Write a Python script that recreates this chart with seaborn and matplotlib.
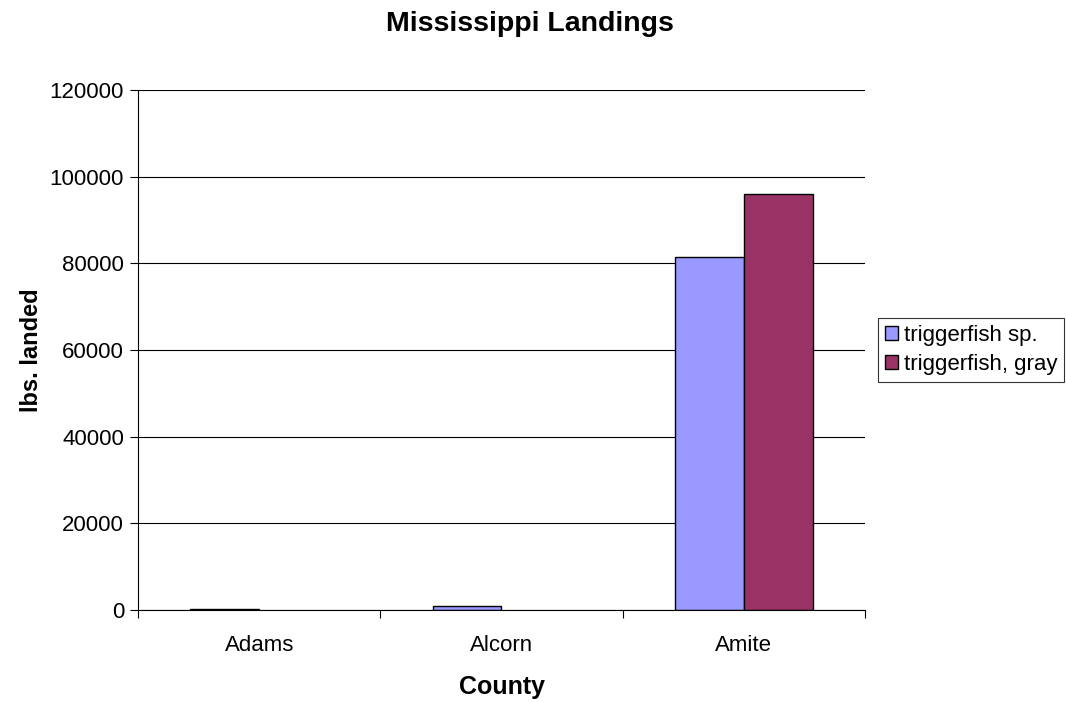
import matplotlib
matplotlib.use("Agg")
import matplotlib.pyplot as plt
import seaborn as sns
import pandas as pd
from matplotlib.ticker import FixedLocator

counties = ["Adams", "Alcorn", "Amite"]
species = ["triggerfish sp.", "triggerfish, gray"]
sp_values = [150, 1000, 81500]
gray_values = [0, 0, 96000]
palette = ["#9999FF", "#993366"]

df = pd.DataFrame({
    "County": counties * 2,
    "Species": [species[0]] * 3 + [species[1]] * 3,
    "lbs": sp_values + gray_values,
})
# counties with no landings for a species get no bar at all
df.loc[df["lbs"] == 0, "lbs"] = float("nan")

sns.set_style("white")
plt.rcParams["font.family"] = ["Liberation Sans", "DejaVu Sans"]
for key in ["text.color", "axes.labelcolor", "xtick.color", "ytick.color"]:
    plt.rcParams[key] = "black"

fig = plt.figure(figsize=(10.66, 7.02), dpi=100)
ax = fig.add_axes([138 / 1066, 1 - 610 / 702, (865 - 138) / 1066, (610 - 90) / 702])

sns.barplot(data=df, x="County", y="lbs", hue="Species", order=counties,
            hue_order=species, palette=palette, width=0.567, gap=0,
            edgecolor="black", linewidth=1, saturation=1, ax=ax)

ax.set_xlim(-0.5, 2.5)
ax.set_ylim(0, 120000)
ax.set_yticks(range(0, 120001, 20000))
ax.yaxis.grid(True, color="black", linewidth=0.8)
ax.set_axisbelow(True)
for s in ["top", "right"]:
    ax.spines[s].set_visible(False)
for s in ["left", "bottom"]:
    ax.spines[s].set_color("black")
    ax.spines[s].set_linewidth(0.8)

ax.tick_params(axis="y", which="major", direction="out", length=6, width=0.8,
               color="black", labelsize=16, left=True, pad=4)
ax.tick_params(axis="x", which="major", length=0, labelsize=16, pad=18)
ax.xaxis.set_minor_locator(FixedLocator([-0.5, 0.5, 1.5, 2.5]))
ax.tick_params(axis="x", which="minor", direction="out", length=6, width=0.8,
               color="black", bottom=True)

ax.set_xlabel("County", fontsize=18, fontweight="bold", labelpad=14)
ax.set_ylabel("lbs. landed", fontsize=17, fontweight="bold", labelpad=5)
fig.suptitle("Mississippi Landings", fontsize=20.5, fontweight="bold",
             y=1 - 24 / 702, va="center", x=530 / 1066)

leg = ax.legend(loc="center left", bbox_to_anchor=(878 / 1066, 1 - 350 / 702),
                bbox_transform=fig.transFigure, frameon=True, fancybox=False,
                fontsize=16, handlelength=0.6, handleheight=0.6, handletextpad=0.25,
                borderpad=0.3, labelspacing=0.35, borderaxespad=0)
leg.get_frame().set_edgecolor("black")
leg.get_frame().set_linewidth(0.8)

fig.savefig("out.png", dpi=100)
